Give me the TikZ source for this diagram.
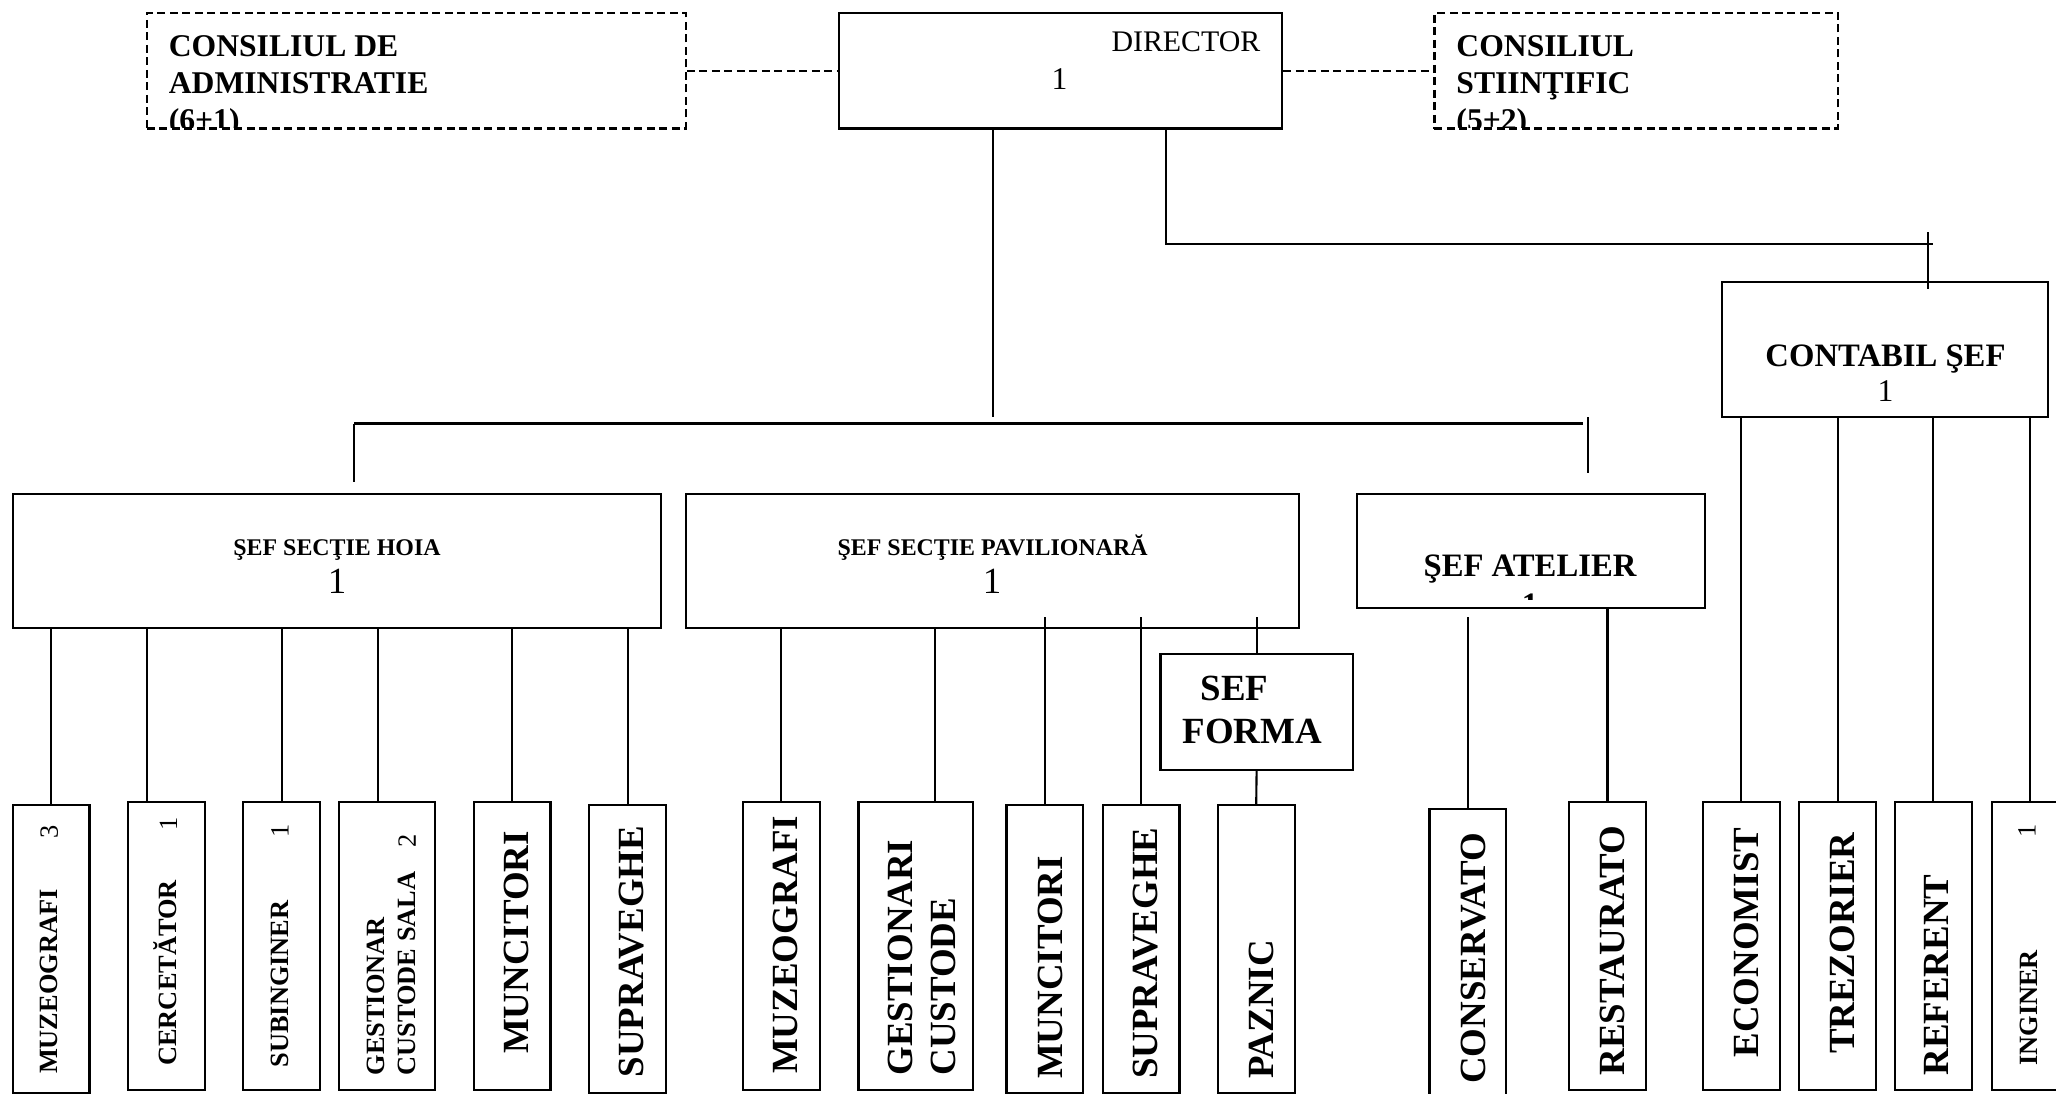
\documentclass[tikz,border=0pt]{standalone}
\usepackage{fontspec}
\setmainfont{Liberation Serif}
\usepackage{tikz}

\begin{document}
\begin{tikzpicture}[x=1mm, y=1mm, line width=0.6pt,
                            box/.style = {draw, inner sep=0pt},
                            dbox/.style = {box, dash pattern=on 0.8mm off 0.45mm},
                            loose/.style = {dash pattern=on 0.8mm off 0.45mm},
                            post/.style = {box, anchor=north, minimum width=7.68mm, minimum height=28.8mm},
                            txt/.style = {inner sep=0pt},
                            vlbl/.style = {rotate=90, anchor=west, inner sep=0pt, font=\bfseries\fontsize{10.5}{12.1}\selectfont},
                            vsml/.style = {vlbl, font=\bfseries\fontsize{7.5}{8.85}\selectfont},
                            vnum/.style = {rotate=90, anchor=east, inner sep=0pt, font=\fontsize{7.5}{9}\selectfont}]
                            \useasboundingbox (0,0) rectangle (205.6,-109.3);

                            % top row
                            \node[dbox, minimum width=53.89mm, minimum height=11.54mm] (admin) at (41.63,-7.08) {};
                            \node[box, minimum width=44.32mm, minimum height=11.54mm] (dir) at (106.08,-7.08) {};
                            \node[dbox, minimum width=40.39mm, minimum height=11.54mm] (stiint) at (163.64,-7.08) {};
                            \begin{scope}
                                \clip (admin.north west) rectangle ([yshift=0.25mm]admin.south east);
                                \node[txt, anchor=base west, align=left, font=\bfseries\fontsize{9}{10.6}\selectfont] (adminT) at (16.78,-13.05) {CONSILIUL DE\\ADMINISTRATIE\\(6+1)};
                            \end{scope}
                            \begin{scope}
                                \clip (stiint.north west) rectangle ([yshift=0.25mm]stiint.south east);
                                \node[txt, anchor=base west, align=left, font=\bfseries\fontsize{9}{10.6}\selectfont] (stiintT) at (145.54,-13.05) {CONSILIUL\\STIINŢIFIC\\(5+2)};
                            \end{scope}
                            \node[txt, anchor=base east, font=\fontsize{8.5}{10}\selectfont] (dirT) at (126.14,-5.17) {DIRECTOR};
                            \node[txt, anchor=base, font=\fontsize{9}{10}\selectfont] (dirN) at (105.95,-8.92) {1};

                            \draw[loose] (admin.east) -- (dir.west);
                            \draw[loose] (dir.east) -- (stiint.west);

                            % middle row
                            \node[box, minimum width=32.65mm, minimum height=13.51mm] (cont) at (188.49,-34.94) {};
                            \node[box, minimum width=64.77mm, minimum height=13.42mm] (hoia) at (33.70,-56.08) {};
                            \node[box, minimum width=61.36mm, minimum height=13.42mm] (pav) at (99.26,-56.08) {};
                            \node[box, minimum width=34.75mm, minimum height=11.47mm] (ate) at (153.08,-55.10) {};
                            \node[box, minimum width=19.23mm, minimum height=11.58mm] (forma) at (125.66,-71.22) {};

                            \node[txt, anchor=base, font=\bfseries\fontsize{9.3}{11}\selectfont] (contT) at (188.55,-36.66) {CONTABIL ŞEF};
                            \node[txt, anchor=base, font=\fontsize{9}{10}\selectfont] (contN) at (188.55,-40.16) {1};
                            \node[txt, anchor=base, font=\bfseries\fontsize{6.8}{8}\selectfont] (hoiaT) at (33.70,-55.57) {ŞEF SECŢIE HOIA};
                            \node[txt, anchor=base, font=\fontsize{10.5}{12}\selectfont] (hoiaN) at (33.70,-59.33) {1};
                            \node[txt, anchor=base, font=\bfseries\fontsize{6.8}{8}\selectfont] (pavT) at (99.26,-55.57) {ŞEF SECŢIE PAVILIONARĂ};
                            \node[txt, anchor=base, font=\fontsize{10.5}{12}\selectfont] (pavN) at (99.20,-59.33) {1};
                            \node[txt, anchor=base, font=\bfseries\fontsize{9.3}{11}\selectfont] (ateT) at (153.00,-57.67) {ŞEF ATELIER};
                            \begin{scope}
                                \clip (ate.north west) rectangle (170.46,-59.99);
                                \node[txt, anchor=north, font=\bfseries\fontsize{9.3}{11}\selectfont] (ateN) at (153.00,-59.27) {1};
                            \end{scope}
                            \node[txt, anchor=base west, align=left, font=\bfseries\fontsize{10.5}{12.1}\selectfont] (formaT) at (118.14,-74.33) {\hspace*{1.83mm}SEF\\FORMA};

                            % links from the director
                            \coordinate (dirFoot) at (99.26,-41.70);
                            \coordinate (busL) at (35.40,-42.35);
                            \coordinate (busR) at (158.26,-42.35);
                            \coordinate (hoiaTop) at (35.40,-48.21);
                            \coordinate (ateUp) at (158.79,-41.70);
                            \coordinate (ateDown) at (158.79,-47.33);
                            \coordinate (contL) at (116.57,-24.39);
                            \coordinate (contR) at (193.27,-24.39);
                            \coordinate (contUp) at (192.81,-23.21);
                            \coordinate (contDown) at (192.81,-28.93);

                            \draw (dir.south -| dirFoot) -- (dirFoot);
                            \draw (busL) -- (busR);
                            \draw (busL) -- (hoiaTop);
                            \draw (ateUp) -- (ateDown);
                            \draw (dir.south -| contL) |- (contR);
                            \draw (contUp) -- (contDown);

                            % bottom row
                            \node[post] (muzH) at (5.11,-80.43) {};
                            \node[post] (cercH) at (16.65,-80.06) {};
                            \node[post] (subH) at (28.17,-80.06) {};
                            \node[post, minimum width=9.6mm] (gestH) at (38.73,-80.06) {};
                            \node[post] (muncH) at (51.21,-80.06) {};
                            \node[post] (suprH) at (62.77,-80.43) {};
                            \node[post] (muzP) at (78.13,-80.06) {};
                            \node[post, minimum width=11.47mm] (gestP) at (91.58,-80.06) {};
                            \node[post] (muncP) at (104.49,-80.43) {};
                            \node[post] (suprP) at (114.11,-80.43) {};
                            \node[post] (paznic) at (125.62,-80.43) {};
                            \node[post] (conserv) at (146.79,-80.77) {};
                            \node[post] (restaur) at (160.75,-80.11) {};
                            \node[post] (econ) at (174.13,-80.11) {};
                            \node[post] (trez) at (183.77,-80.11) {};
                            \node[post] (refer) at (193.33,-80.11) {};
                            \node[post] (ing) at (203.00,-80.11) {};

                            \node[vsml] (muzHt) at (4.92,-107.50) {MUZEOGRAFI};
                            \node[vnum] (muzHn) at (4.92,-82.47) {3};
                            \node[vsml] (cercHt) at (16.52,-106.67) {CERCETĂTOR};
                            \node[vnum] (cercHn) at (16.85,-81.67) {1};
                            \node[vsml] (subHt) at (27.99,-106.84) {SUBINGINER};
                            \node[vnum] (subHn) at (27.99,-82.34) {1};
                            \node[vsml, align=left] (gestHt) at (39.15,-107.65) {GESTIONAR\\CUSTODE SALA};
                            \node[vnum] (gestHn) at (40.71,-83.34) {2};
                            \node[vlbl] (muncHt) at (51.66,-105.50) {MUNCITORI};
                            \node[vlbl] (suprHt) at (63.17,-107.83) {SUPRAVEGHE};
                            \node[vlbl] (muzPt) at (78.58,-107.50) {MUZEOGRAFI};
                            \node[vlbl, align=left] (gestPt) at (92.22,-107.65) {GESTIONARI\\CUSTODE};
                            \node[vlbl] (muncPt) at (105.05,-108.00) {MUNCITORI};
                            \node[vlbl] (suprPt) at (114.52,-108.00) {SUPRAVEGHE};
                            \node[vlbl] (paznicT) at (126.12,-108.00) {PAZNIC};
                            \node[vlbl] (conservT) at (147.31,-108.50) {CONSERVATO};
                            \node[vlbl] (restaurT) at (161.21,-107.66) {RESTAURATO};
                            \node[vlbl] (econT) at (174.60,-105.84) {ECONOMIST};
                            \node[vlbl] (trezT) at (184.22,-105.50) {TREZORIER};
                            \node[vlbl] (referT) at (193.64,-107.66) {REFERENT};
                            \node[vsml] (ingT) at (202.84,-106.67) {INGINER};
                            \node[vnum] (ingN) at (202.70,-82.34) {1};

                            % links to the bottom row
                            \coordinate (cercTop) at ([xshift=-1.96mm]cercH.north);
                            \coordinate (gestTop) at ([xshift=-0.9mm]gestH.north);
                            \coordinate (gestPTop) at ([xshift=1.91mm]gestP.north);
                            \coordinate (pavIn) at ([yshift=1.15mm]pav.south);
                            \coordinate (ateOut) at ([yshift=-0.79mm]ate.south);

                            \draw (hoia.south -| muzH.north) -- (muzH.north);
                            \draw (hoia.south -| cercTop) -- (cercTop);
                            \draw (hoia.south -| subH.north) -- (subH.north);
                            \draw (hoia.south -| gestTop) -- (gestTop);
                            \draw (hoia.south -| muncH.north) -- (muncH.north);
                            \draw (hoia.south -| suprH.north) -- (suprH.north);

                            \draw (pav.south -| muzP.north) -- (muzP.north);
                            \draw (pav.south -| gestPTop) -- (gestPTop);
                            \draw (pavIn -| muncP.north) -- (muncP.north);
                            \draw (pavIn -| suprP.north) -- (suprP.north);
                            \draw (pavIn -| forma.north) -- (forma.north);
                            \draw (forma.south) -- (paznic.north);

                            \draw (ateOut -| conserv.north) -- (conserv.north);
                            \draw (ate.south -| restaur.north) -- (restaur.north);

                            \draw (cont.south -| econ.north) -- (econ.north);
                            \draw (cont.south -| trez.north) -- (trez.north);
                            \draw (cont.south -| refer.north) -- (refer.north);
                            \draw (cont.south -| ing.north) -- (ing.north);
                        \end{tikzpicture}
\end{document}
